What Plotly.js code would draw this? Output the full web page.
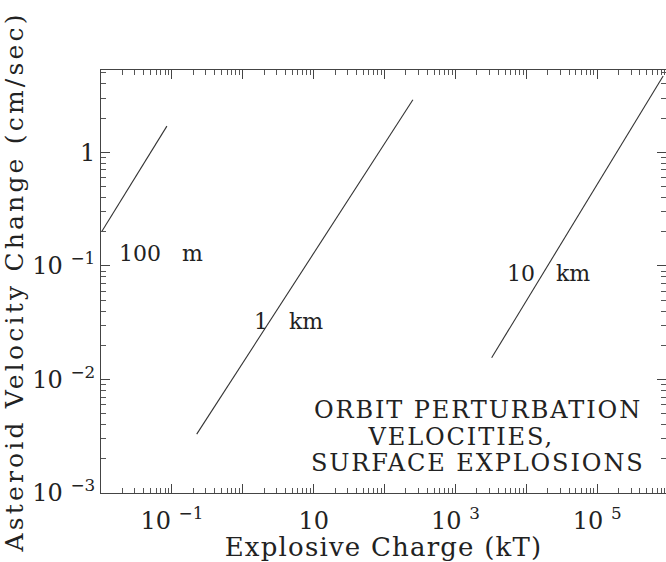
<!DOCTYPE html>
<html>
<head>
<meta charset="utf-8">
<script src="https://cdn.plot.ly/plotly-3.0.1.min.js"></script>
<style>
html,body{margin:0;padding:0;background:#fff;}
#chart .xtitle{letter-spacing:1.2px;}
#chart .ytitle{letter-spacing:3.2px;}
</style>
</head>
<body>
<div id="chart" style="width:666px;height:562px;"></div>
<script>
// Asteroid diameters and their curves (explosive charge kT vs velocity change cm/s)
const seriesNames = ["100\u00A0\u00A0\u00A0m", "1\u00A0\u00A0\u00A0km", "10\u00A0\u00A0\u00A0km"];
const x100m = [0.0102, 0.085];
const y100m = [0.20, 1.7];
const x1km = [0.224, 251];
const y1km = [0.0033, 2.9];
const x10km = [3240, 851000];
const y10km = [0.0155, 4.7];

// Tick values and labels
const xTickVals = [0.01, 0.1, 1, 10, 100, 1000, 1e4, 1e5, 1e6];
const xTickText = ["", "10 <sup>−1</sup>", "", "10", "", "10 <sup>3</sup>", "", "10 <sup>5</sup>", ""];
const yTickVals = [0.001, 0.01, 0.1, 1];
const yTickText = ["10 <sup>−3</sup>", "10 <sup>−2</sup>", "10 <sup>−1</sup>", "1"];

// Label positions (log10 of data coordinates)
const labelX = [-1.16, 0.64, 4.31];
const labelY = [-0.887, -1.486, -1.063];
const noteLines = ["ORBIT PERTURBATION", "VELOCITIES,", "SURFACE EXPLOSIONS"];
const noteX = [3.317, 3.08, 3.317];
const noteY = [-2.269, -2.507, -2.736];

const FONT = "DejaVu Serif, Liberation Serif, serif";
const INK = "#222";

const lineStyle = {color: "#333", width: 1.1};
const traces = [
  {x: x100m, y: y100m, mode: "lines", line: lineStyle, name: seriesNames[0]},
  {x: x1km, y: y1km, mode: "lines", line: lineStyle, name: seriesNames[1]},
  {x: x10km, y: y10km, mode: "lines", line: lineStyle, name: seriesNames[2]}
];

const annotations = seriesNames.map((t, i) => ({
  x: labelX[i], y: labelY[i], xref: "x", yref: "y", text: t, showarrow: false,
  font: {family: FONT, size: 22, color: INK}
}));
noteLines.forEach((t, i) => annotations.push({
  x: noteX[i], y: noteY[i], xref: "x", yref: "y", text: t, showarrow: false,
  font: {family: FONT, size: 24, color: INK}
}));

const axisCommon = {
  type: "log", showgrid: false, zeroline: false,
  showline: true, linecolor: "#444", linewidth: 1, mirror: "allticks",
  ticks: "inside", ticklen: 9, tickwidth: 1, tickcolor: "#444",
  minor: {dtick: "D1", ticks: "inside", ticklen: 5, tickwidth: 1, tickcolor: "#555", showgrid: false},
  tickfont: {family: FONT, size: 24, color: INK}
};

const layout = {
  width: 666, height: 562,
  margin: {l: 101, r: 0, t: 70, b: 69},
  paper_bgcolor: "#fff", plot_bgcolor: "#fff",
  showlegend: false,
  xaxis: Object.assign({}, axisCommon, {
    range: [-2, 5.97], tickmode: "array", tickvals: xTickVals, ticktext: xTickText,
    ticklabelstandoff: 6,
    title: {text: "Explosive Charge (kT)", font: {family: FONT, size: 26, color: INK}, standoff: 0}
  }),
  yaxis: Object.assign({}, axisCommon, {
    range: [-3, 0.725], tickmode: "array", tickvals: yTickVals, ticktext: yTickText,
    ticklabelstandoff: 0,
    title: {text: "Asteroid Velocity Change (cm/sec)", font: {family: FONT, size: 25, color: INK}, standoff: 6}
  }),
  annotations: annotations
};

Plotly.newPlot("chart", traces, layout, {displayModeBar: false, staticPlot: true}).then(() => {
  document.querySelectorAll("#chart .annotation").forEach((g, i) => {
    if (i >= seriesNames.length) {
      const t = g.querySelector("text");
      if (t) t.style.letterSpacing = "1.9px";
    }
  });
});
</script>
</body>
</html>
